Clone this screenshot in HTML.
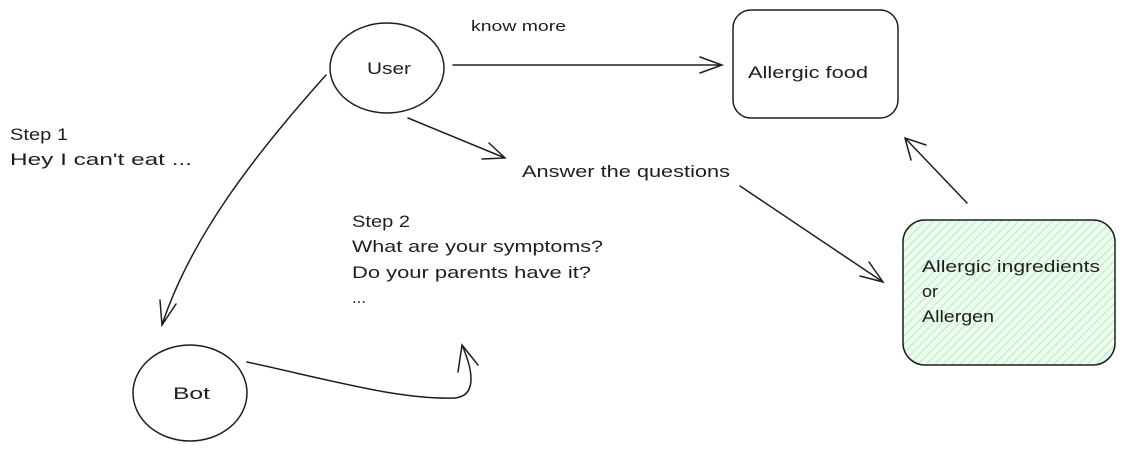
<!DOCTYPE html>
<html><head><meta charset="utf-8"><style>
html,body{margin:0;padding:0;background:#fff;}
svg{display:block}
text{font-family:"Liberation Sans",sans-serif;font-size:17px;fill:#1e1e1e}
</style></head><body>
<svg width="1125" height="452" viewBox="0 0 1125 452" xmlns="http://www.w3.org/2000/svg">
<defs>
<pattern id="h" width="6" height="6" patternUnits="userSpaceOnUse" patternTransform="rotate(45)">
<rect width="6" height="6" fill="#eefaf0"/>
<line x1="0" y1="0" x2="0" y2="6" stroke="#b2f2bb" stroke-width="2.2"/>
</pattern>
</defs>
<g fill="none" stroke="#1e1e1e" stroke-width="1.5" stroke-linecap="round">
<ellipse cx="387" cy="68" rx="57" ry="45"/>
<ellipse cx="190" cy="393" rx="57" ry="48"/>
<rect x="733" y="10" width="165" height="108" rx="18"/>
<rect x="903" y="220" width="212" height="145" rx="22" fill="url(#h)"/>
<path d="M453 65 L722 65 M700 57 L722 65 L700 73"/>
<path d="M408 118 L505 158 M482 159 L505 158 L489 143"/>
<path d="M740 186 L883 282 M860 276 L883 282 L869 262"/>
<path d="M967 203 L905 138 M911 160 L905 138 L926 145"/>
<path d="M326 75 C250 160 190 240 162 325 M160 300 L162 325 L176 304"/>
<path d="M247 362 C330 380 400 400 455 398 C475 396 475 375 462 345 M458 372 L462 345 L478 365"/>
</g>
<text x="471" y="31" style="font-size:15px" textLength="95" lengthAdjust="spacingAndGlyphs">know more</text>
<text x="367" y="74" textLength="44" lengthAdjust="spacingAndGlyphs">User</text>
<text x="173" y="399" textLength="37" lengthAdjust="spacingAndGlyphs">Bot</text>
<text x="748" y="78" textLength="120" lengthAdjust="spacingAndGlyphs">Allergic food</text>
<text x="522" y="177" textLength="208" lengthAdjust="spacingAndGlyphs">Answer the questions</text>
<text x="922" y="272" textLength="178" lengthAdjust="spacingAndGlyphs">Allergic ingredients</text>
<text x="922" y="297" textLength="16" lengthAdjust="spacingAndGlyphs">or</text>
<text x="922" y="322" textLength="72" lengthAdjust="spacingAndGlyphs">Allergen</text>
<text x="10" y="140" textLength="58" lengthAdjust="spacingAndGlyphs">Step 1</text>
<text x="10" y="165" textLength="182" lengthAdjust="spacingAndGlyphs">Hey I can't eat ...</text>
<text x="352" y="227" textLength="58" lengthAdjust="spacingAndGlyphs">Step 2</text>
<text x="352" y="252" textLength="251" lengthAdjust="spacingAndGlyphs">What are your symptoms?</text>
<text x="352" y="278" textLength="239" lengthAdjust="spacingAndGlyphs">Do your parents have it?</text>
<text x="352" y="303" textLength="14" lengthAdjust="spacingAndGlyphs">...</text>
</svg>
</body></html>
